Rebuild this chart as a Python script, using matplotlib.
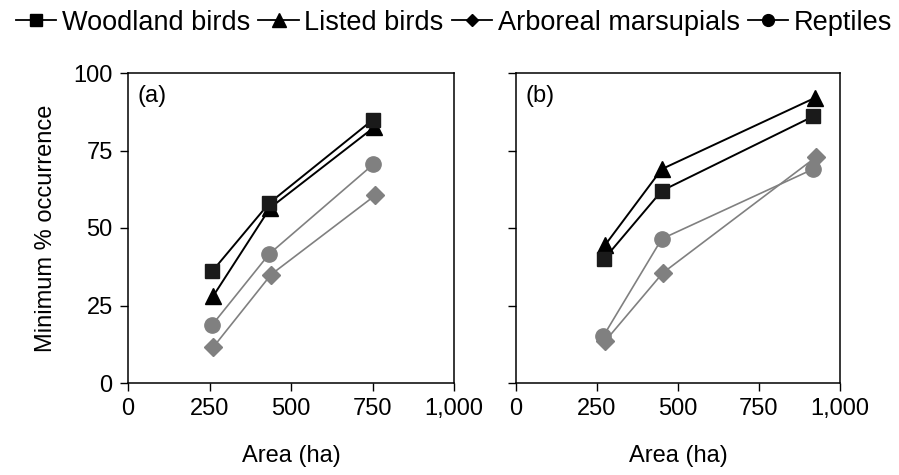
import matplotlib
matplotlib.use("Agg")
from matplotlib import pyplot as plt
from matplotlib.lines import Line2D
import numpy as np

plt.rcParams['font.family'] = ['Liberation Sans', 'DejaVu Sans']

# panel (a)
area_a = {
    'woodland': [258, 433, 752],
    'listed': [261, 436, 755],
    'marsupials': [261, 439, 758],
    'reptiles': [258, 433, 752],
}
occ_a = {
    'woodland': [36, 58, 85],
    'listed': [28, 56.5, 82.5],
    'marsupials': [11.5, 35, 60.5],
    'reptiles': [18.7, 41.6, 70.5],
}

# panel (b)
area_b = {
    'woodland': [272, 450, 917],
    'listed': [275, 450, 923],
    'marsupials': [275, 453, 925],
    'reptiles': [270, 450, 917],
}
occ_b = {
    'woodland': [40, 62, 86],
    'listed': [44.5, 69, 92],
    'marsupials': [13.5, 35.5, 72.8],
    'reptiles': [15.2, 46.5, 69],
}

series = ['woodland', 'listed', 'marsupials', 'reptiles']
series_names = ['Woodland birds', 'Listed birds', 'Arboreal marsupials', 'Reptiles']
x_ticks = [0, 250, 500, 750, 1000]
x_tick_labels = ['0', '250', '500', '750', '1,000']
y_ticks = [0, 25, 50, 75, 100]

# style of each series on the plot
styles = {
    'woodland': dict(marker='s', color='black', mfc='#1a1a1a', mec='#1a1a1a', ms=10.5, lw=1.4),
    'listed': dict(marker='^', color='black', mfc='black', mec='black', ms=11.5, lw=1.4),
    'marsupials': dict(marker='D', color='#808080', mfc='#808080', mec='#808080', ms=9, lw=1.2),
    'reptiles': dict(marker='o', color='#808080', mfc='#808080', mec='#808080', ms=11, lw=1.2),
}

fig = plt.figure(figsize=(8.99, 4.75), dpi=100)
ax1 = fig.add_axes([128/899, 92/475, 326/899, 310/475])
ax2 = fig.add_axes([516/899, 92/475, 324/899, 310/475])

for ax, areas, occs, tag in [(ax1, area_a, occ_a, '(a)'), (ax2, area_b, occ_b, '(b)')]:
    # draw grey ones first so black lines sit on top
    for key in ['marsupials', 'reptiles', 'listed', 'woodland']:
        ax.plot(areas[key], occs[key], **styles[key])
    ax.set_xlim(0, 1000)
    ax.set_ylim(0, 100)
    ax.set_xticks(x_ticks)
    ax.set_xticklabels(x_tick_labels)
    ax.set_yticks(y_ticks)
    ax.tick_params(direction='out', length=6, width=1, labelsize=17, pad=5,
                   top=False, right=False)
    for sp in ax.spines.values():
        sp.set_linewidth(1.1)
    ax.set_xlabel('Area (ha)', fontsize=17, labelpad=18)
    ax.text(0.03, 0.96, tag, transform=ax.transAxes, fontsize=17, va='top', ha='left')

ax1.set_ylabel('Minimum % occurrence', fontsize=17, labelpad=12)
ax2.set_yticklabels([])

# legend uses black markers for every group
legend_markers = {'woodland': ('s', 8.5), 'listed': ('^', 9.5), 'marsupials': ('D', 6), 'reptiles': ('o', 8.5)}
handles = []
for key in series:
    m, s = legend_markers[key]
    handles.append(Line2D([], [], color='black', lw=1.3, marker=m, ms=s, mfc='black', mec='black'))
fig.legend(handles, series_names, loc='center', bbox_to_anchor=(0.505, 0.952), ncol=4,
           frameon=False, fontsize=19.5, handlelength=1.5, handletextpad=0.2, columnspacing=0.3,
           borderaxespad=0)

fig.savefig('out.png', dpi=100)
